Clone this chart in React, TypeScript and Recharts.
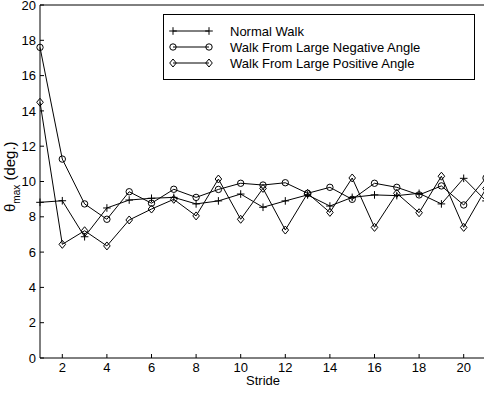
import React from 'react';
import { LineChart, Line, XAxis, YAxis, Legend } from 'recharts';

const strides = [1, 2, 3, 4, 5, 6, 7, 8, 9, 10, 11, 12, 13, 14, 15, 16, 17, 18, 19, 20, 21];
const normalWalk = [8.82, 8.91, 6.87, 8.5, 8.95, 9.05, 9.1, 8.73, 8.9, 9.29, 8.54, 8.9, 9.24, 8.61, 9.1, 9.24, 9.2, 9.33, 8.73, 10.18, 8.9];
const negativeWalk = [17.6, 11.27, 8.73, 7.86, 9.42, 8.77, 9.56, 9.1, 9.55, 9.9, 9.8, 9.93, 9.33, 9.67, 8.99, 9.9, 9.67, 9.24, 9.75, 8.67, 10.2];
const positiveWalk = [14.49, 6.44, 7.21, 6.35, 7.82, 8.44, 8.99, 8.05, 10.14, 7.86, 9.61, 7.25, 9.33, 8.25, 10.2, 7.4, 9.33, 8.23, 10.3, 7.4, 9.6];
const seriesNames = ['Normal Walk', 'Walk From Large Negative Angle', 'Walk From Large Positive Angle'];
const xTicks = [2, 4, 6, 8, 10, 12, 14, 16, 18, 20];
const yTicks = [0, 2, 4, 6, 8, 10, 12, 14, 16, 18, 20];

const data = strides.map((s, i) => ({
  stride: s,
  normal: normalWalk[i],
  negative: negativeWalk[i],
  positive: positiveWalk[i],
}));

const FONT = '"Liberation Sans", Arial, Helvetica, sans-serif';

const Plus = ({ cx, cy }: any) => (
  <path d={`M${cx - 3.8},${cy}H${cx + 3.8}M${cx},${cy - 3.8}V${cy + 3.8}`} stroke="#000" strokeWidth={1} fill="none" />
);
const Circ = ({ cx, cy }: any) => <circle cx={cx} cy={cy} r={3.2} stroke="#000" strokeWidth={1} fill="none" />;
const Diam = ({ cx, cy }: any) => (
  <path d={`M${cx},${cy - 4}L${cx + 3.3},${cy}L${cx},${cy + 4}L${cx - 3.3},${cy}Z`} stroke="#000" strokeWidth={1} fill="none" />
);

const markers = [Plus, Circ, Diam];

const dotFn = (M: any) => (props: any) => {
  const { cx, cy, index } = props;
  if (cx == null || cy == null) return <g key={`d${index}`} />;
  return <M key={`d${index}`} cx={cx} cy={cy} />;
};

const LegendBox = () => (
  <div
    style={{
      width: 312,
      height: 66,
      boxSizing: 'border-box',
      border: '1px solid #000',
      background: '#fff',
      position: 'relative',
    }}
  >
    <svg width={310} height={64} style={{ position: 'absolute', left: 0, top: 0 }}>
      {seriesNames.map((name, i) => {
        const y = 16 + i * 16;
        const M = markers[i];
        return (
          <g key={name}>
            <line x1={9} x2={45} y1={y} y2={y} stroke="#000" strokeWidth={1} />
            <M cx={9} cy={y} />
            <M cx={45} cy={y} />
            <text x={66} y={y} dy="0.35em" fontSize={13} fontFamily={FONT} fill="#000">
              {name}
            </text>
          </g>
        );
      })}
    </svg>
  </div>
);

const YLabel = (props: any) => {
  const vb = props.viewBox || { x: 0, y: 5, width: 40, height: 353 };
  const cy = vb.y + vb.height / 2 + 30.5;
  return (
    <text transform={`translate(${vb.x + 15},${cy}) rotate(-90)`} fontFamily={FONT} fontSize={15} fill="#000" textAnchor="start">
      <tspan>θ</tspan>
      <tspan fontSize={10} dy={5}>max</tspan>
      <tspan dy={-5}> (deg.)</tspan>
    </text>
  );
};

export default function App() {
  return (
    <div style={{ position: 'absolute', left: 0, top: 0, width: 484, height: 393, overflow: 'hidden', background: '#fff' }}>
      <LineChart width={500} height={393} data={data} margin={{ top: 4, right: 13, bottom: 0, left: 0 }}>
        <XAxis
          dataKey="stride"
          type="number"
          domain={[1, 21]}
          ticks={xTicks}
          interval={0}
          height={35}
          tickSize={-4}
          tickMargin={9}
          axisLine={{ stroke: '#000', strokeWidth: 1 }}
          tickLine={{ stroke: '#000', strokeWidth: 1 }}
          tick={{ fill: '#000', fontSize: 13, fontFamily: FONT }}
          label={{ value: 'Stride', position: 'insideBottom', offset: 8, fill: '#000', fontSize: 13, fontFamily: FONT }}
        />
        <XAxis
          xAxisId="top"
          orientation="top"
          dataKey="stride"
          type="number"
          domain={[1, 21]}
          ticks={xTicks}
          interval={0}
          height={1}
          tickSize={-4}
          tick={false}
          axisLine={{ stroke: '#000', strokeWidth: 1 }}
          tickLine={{ stroke: '#000', strokeWidth: 1 }}
        />
        <YAxis
          type="number"
          domain={[0, 20]}
          ticks={yTicks}
          interval={0}
          width={40}
          tickSize={-4}
          tickMargin={8}
          axisLine={{ stroke: '#000', strokeWidth: 1 }}
          tickLine={{ stroke: '#000', strokeWidth: 1 }}
          tick={{ fill: '#000', fontSize: 13, fontFamily: FONT }}
          label={{ content: YLabel }}
        />
        <YAxis
          yAxisId="right"
          orientation="right"
          type="number"
          domain={[0, 20]}
          ticks={yTicks}
          interval={0}
          width={1}
          tickSize={-4}
          tick={false}
          axisLine={{ stroke: '#000', strokeWidth: 1 }}
          tickLine={{ stroke: '#000', strokeWidth: 1 }}
        />
        <Legend
          layout="horizontal"
          verticalAlign="middle"
          content={LegendBox}
          wrapperStyle={{ top: 14, left: 163, width: 312, height: 66 }}
        />
        <Line dataKey="normal" name={seriesNames[0]} stroke="#000" strokeWidth={1} dot={dotFn(Plus)} isAnimationActive={false} />
        <Line dataKey="negative" name={seriesNames[1]} stroke="#000" strokeWidth={1} dot={dotFn(Circ)} isAnimationActive={false} />
        <Line dataKey="positive" name={seriesNames[2]} stroke="#000" strokeWidth={1} dot={dotFn(Diam)} isAnimationActive={false} />
      </LineChart>
    </div>
  );
}
